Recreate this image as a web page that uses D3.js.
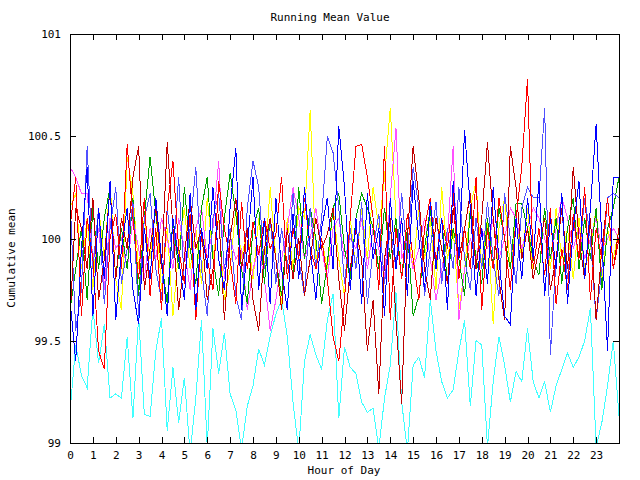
<!DOCTYPE html>
<html><head><meta charset="utf-8">
<script src="https://cdn.jsdelivr.net/npm/d3@7"></script>
<style>
body{margin:0;background:#fff;}
svg{display:block;}
text{font-family:"DejaVu Sans Mono",monospace;font-size:11px;fill:#000;}
</style></head>
<body><svg id="c" width="640" height="480"></svg>
<script>
const hours = d3.range(0, 97).map(i => i * 0.25);
const xTicks = d3.range(0, 24);
const yTicks = [99, 99.5, 100, 100.5, 101];
const yTickLabels = ["99", "99.5", "100", "100.5", "101"];
const title = "Running Mean Value";
const xTitle = "Hour of Day";
const yTitle = "Cumulative mean";

const cyanVals = [99.15,99.48,99.33,99.27,99.66,99.39,99.58,99.22,99.24,99.22,99.52,99.12,99.62,99.14,99.13,99.45,99.61,99.06,99.37,99.10,99.32,98.95,99.22,99.60,98.98,99.56,99.34,99.54,99.24,99.16,98.97,99.18,99.28,99.46,99.38,99.52,99.63,99.70,99.52,99.20,98.96,99.40,99.53,99.43,99.36,99.60,99.73,99.12,99.47,99.37,99.34,99.20,99.15,99.17,98.97,99.22,99.38,99.74,99.20,98.96,99.38,99.42,99.32,99.70,99.45,99.30,99.22,99.26,99.45,99.60,99.18,99.50,99.48,98.98,99.30,99.52,99.38,99.20,99.35,99.30,99.56,99.30,99.22,99.30,99.15,99.28,99.36,99.44,99.37,99.42,99.50,99.66,98.98,99.10,99.28,99.50,99.13];
const yellowVals = [100.15,100.22,99.85,100.10,99.75,100.15,99.90,100.28,99.80,99.65,100.40,100.22,99.85,100.10,99.90,100.15,99.75,100.05,99.62,99.95,100.15,99.85,100.05,99.78,100.20,99.90,100.10,99.70,99.85,100.15,99.90,100.05,99.80,100.10,99.85,100.25,99.90,99.68,100.10,99.85,100.15,100.10,100.63,99.90,100.00,99.85,100.15,99.90,99.72,100.10,99.85,100.15,99.90,100.25,100.05,100.30,100.64,100.10,99.80,100.05,99.85,100.15,99.90,100.10,99.75,100.25,99.90,100.05,99.65,99.85,100.15,100.28,99.85,100.10,99.58,100.05,100.20,99.85,100.10,99.90,100.15,99.80,99.95,100.10,99.85,100.15,99.90,100.05,99.80,100.10,99.85,99.95,100.15,99.80,100.05,99.90,100.05];
const magentaVals = [100.35,100.30,100.22,100.22,99.90,100.05,99.75,100.10,99.95,100.00,99.85,100.10,99.95,99.80,100.05,99.90,100.10,100.00,99.85,100.10,99.95,99.75,100.05,100.15,99.90,100.05,100.38,99.80,100.00,99.90,99.95,99.65,99.85,99.95,99.80,99.55,99.70,99.90,100.05,100.25,100.10,99.90,100.00,100.15,99.95,99.80,100.05,100.10,99.90,100.00,99.95,100.10,99.85,100.05,99.95,99.80,100.20,100.54,99.90,100.00,99.85,99.95,100.10,99.90,99.70,99.85,100.00,100.45,99.60,99.85,100.00,99.90,100.05,99.95,100.10,99.90,100.00,100.15,100.10,99.95,100.05,100.15,100.10,100.00,99.90,100.05,100.20,100.10,99.95,100.05,99.90,100.00,100.10,99.95,100.00,100.05,100.00];
const greenVals = [99.65,99.85,100.05,99.70,100.15,99.85,100.10,100.25,99.80,100.05,99.85,100.20,99.72,100.10,100.40,100.12,99.90,99.68,100.10,99.85,100.25,99.95,99.78,100.15,100.30,99.90,99.72,100.10,100.32,100.12,99.85,99.68,100.05,100.15,99.78,100.10,99.90,99.72,100.05,99.80,100.25,99.90,100.15,100.00,99.68,99.88,100.15,100.22,99.95,99.80,100.10,100.22,100.15,100.05,99.85,100.15,99.90,100.10,99.80,100.05,99.62,99.72,99.95,100.15,99.85,100.10,99.78,100.05,99.90,99.72,100.15,99.90,99.78,100.10,99.85,100.15,100.00,99.85,100.17,100.17,100.05,99.90,99.82,100.15,99.90,100.10,99.78,100.05,100.20,99.85,100.10,99.90,100.15,99.75,100.05,100.15,100.30];
const slateVals = [100.20,99.55,99.75,100.45,99.85,100.15,99.68,100.05,100.25,99.78,99.95,100.18,99.62,100.10,100.22,99.85,99.70,100.15,99.90,100.30,99.78,100.05,100.35,99.85,99.62,100.10,100.22,99.85,100.05,99.72,99.60,100.15,100.38,100.25,99.85,100.10,99.78,100.05,99.85,100.22,99.90,99.72,100.15,99.85,100.10,100.50,100.42,100.15,99.78,100.05,99.85,100.18,99.68,99.95,100.12,99.78,100.05,99.85,100.22,99.90,100.35,100.15,99.72,99.95,100.18,99.78,100.05,99.85,100.25,99.90,99.75,100.10,99.85,100.18,99.90,99.72,100.22,100.00,99.78,100.15,100.25,100.20,100.20,100.64,99.43,99.90,100.15,99.80,100.10,99.90,100.20,100.00,99.60,99.85,100.20,100.22,100.20];
const darkRedVals = [99.60,100.15,100.05,99.85,100.20,99.70,99.90,100.25,99.80,100.10,99.95,100.30,100.45,99.75,99.95,100.15,99.85,100.47,100.05,99.65,99.90,100.20,99.95,100.05,99.70,99.85,100.12,99.60,100.00,100.20,99.85,100.05,99.70,99.55,99.95,100.10,99.90,99.65,100.05,99.80,100.00,99.72,99.90,100.10,99.95,100.02,100.15,99.80,99.55,99.85,100.05,99.90,99.45,99.70,99.24,99.90,100.10,99.60,99.19,100.00,100.45,100.20,99.85,99.70,100.10,99.95,99.78,100.15,99.90,100.05,100.22,99.85,100.10,100.47,100.10,99.80,99.60,100.45,100.25,99.90,100.05,99.80,99.95,100.10,99.75,99.90,100.15,99.85,100.35,100.00,99.80,100.10,99.60,99.95,100.20,99.85,100.05];
const redVals = [100.05,100.30,99.62,100.10,99.90,99.45,99.36,100.00,100.12,99.85,100.46,100.10,99.80,100.20,99.72,100.05,99.65,100.15,100.38,99.95,99.78,100.12,99.60,100.02,99.90,99.75,100.28,100.05,99.90,99.68,100.18,99.85,100.08,99.92,100.10,99.95,100.02,100.30,99.80,100.05,99.90,100.20,99.95,99.85,100.00,99.80,99.52,99.40,99.70,100.10,100.45,100.46,100.30,100.10,99.75,100.45,99.60,100.05,99.80,100.12,99.90,99.70,100.05,100.20,99.88,100.10,99.95,100.22,99.80,100.05,99.85,100.30,99.65,100.05,99.85,100.20,100.00,99.75,100.10,100.35,100.78,99.85,100.05,99.82,100.15,99.68,99.95,99.75,100.12,99.90,100.25,99.70,100.05,99.90,100.20,99.85,100.00];
const blueVals = [99.70,99.40,99.95,100.35,99.62,100.15,99.80,100.28,99.60,99.95,100.15,99.75,99.58,100.05,99.80,100.20,99.90,99.62,100.10,99.90,99.70,100.22,99.65,100.05,99.85,100.25,99.90,99.75,100.15,100.44,99.65,99.95,100.30,99.75,100.10,99.68,100.20,99.85,99.65,100.12,99.80,100.25,99.95,99.70,100.05,100.20,99.85,100.55,100.25,99.75,100.10,99.68,100.22,99.90,100.05,99.62,100.20,99.85,100.10,99.72,100.28,100.00,99.75,100.18,99.85,100.10,99.65,100.28,99.90,100.53,100.15,99.72,100.05,99.78,100.25,99.90,99.62,99.58,100.10,99.80,100.20,99.90,100.28,99.72,100.10,99.85,100.22,99.68,100.05,100.28,99.80,100.15,100.56,100.00,99.45,100.30,100.30];

const seriesNames = ["cyan","yellow","magenta","green","slateblue","darkred","red","blue"];
const seriesColors = ["#40ffff","#ffff00","#ff50ff","#00a000","#5050ff","#c00000","#ff0000","#0000ff"];
const seriesValues = [cyanVals,yellowVals,magentaVals,greenVals,slateVals,darkRedVals,redVals,blueVals];

const svg = d3.select("#c");
const L = 70, R = 619, T = 34, B = 443;
const x = d3.scaleLinear().domain([0, 24]).range([L, R]);
const y = d3.scaleLinear().domain([99, 101]).range([B, T]);

const defs = svg.append("defs");
defs.append("clipPath").attr("id","clip").append("rect")
  .attr("x", L).attr("y", T).attr("width", R - L).attr("height", B - T);

const lineGen = d3.line().x((d,i) => x(hours[i])).y(d => y(d));
const g = svg.append("g").attr("clip-path","url(#clip)");
seriesValues.forEach((vals, k) => {
  g.append("path").datum(vals)
    .attr("d", lineGen)
    .attr("fill","none")
    .attr("stroke", seriesColors[k])
    .attr("stroke-width", 1)
    .attr("shape-rendering","crispEdges");
});

function styleAxis(sel){
  sel.select(".domain").remove();
  sel.selectAll("line").attr("stroke","#000").attr("shape-rendering","crispEdges");
  sel.selectAll("text").attr("fill","#000").style("font-family","'DejaVu Sans Mono',monospace").style("font-size","11px");
}
svg.append("g").attr("transform",`translate(0,${B})`)
  .call(d3.axisBottom(x).tickValues(xTicks).tickFormat(d3.format("d")).tickSize(-6).tickPadding(8))
  .call(styleAxis);
svg.append("g").attr("transform",`translate(0,${T})`)
  .call(d3.axisTop(x).tickValues(xTicks).tickFormat("").tickSize(-6))
  .call(styleAxis);
svg.append("g").attr("transform",`translate(${L},0)`)
  .call(d3.axisLeft(y).tickValues(yTicks).tickFormat((d,i) => yTickLabels[i]).tickSize(-6).tickPadding(9))
  .call(styleAxis);
svg.append("g").attr("transform",`translate(${R},0)`)
  .call(d3.axisRight(y).tickValues(yTicks).tickFormat("").tickSize(-6))
  .call(styleAxis);

svg.append("rect").attr("x", L + 0.5).attr("y", T + 0.5).attr("width", R - L).attr("height", B - T)
  .attr("fill","none").attr("stroke","#000").attr("stroke-width",1);

svg.append("text").attr("x", 330).attr("y", 21).attr("text-anchor","middle").text(title);
svg.append("text").attr("x", 344).attr("y", 474).attr("text-anchor","middle").text(xTitle);
svg.append("text").attr("transform","translate(15,258) rotate(-90)").attr("text-anchor","middle").text(yTitle);
</script></body></html>
